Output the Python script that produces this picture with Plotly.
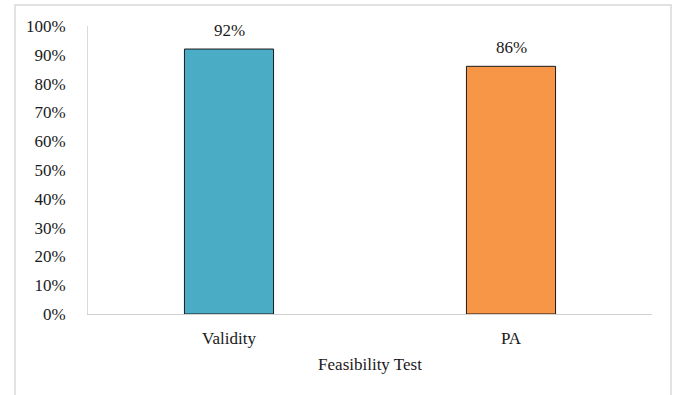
import plotly.graph_objects as go

# Feasibility test results
categories = ["Validity", "PA"]
scores = [0.92, 0.86]
bar_colors = ["#4BACC6", "#F79646"]
y_ticks = [0, 0.1, 0.2, 0.3, 0.4, 0.5, 0.6, 0.7, 0.8, 0.9, 1.0]

FONT = "Palatino Linotype, Book Antiqua, Liberation Serif, DejaVu Serif, serif"

fig = go.Figure(
    go.Bar(
        x=categories,
        y=scores,
        marker=dict(color=bar_colors, line=dict(color="#1a1a1a", width=1)),
        width=0.316,
        cliponaxis=False,
    )
)

# value labels above each bar
for cat, val in zip(categories, scores):
    fig.add_annotation(
        x=cat,
        y=val,
        text=f"{val:.0%}",
        showarrow=False,
        yanchor="bottom",
        yshift=7,
        font=dict(family=FONT, size=17, color="#1a1a1a"),
    )

L, R, T, B = 88, 24, 26, 81
W, H = 676, 395
pw, ph = W - L - R, H - T - B

fig.update_layout(
    width=W,
    height=H,
    margin=dict(l=L, r=R, t=T, b=B),
    paper_bgcolor="white",
    plot_bgcolor="white",
    showlegend=False,
    font=dict(family=FONT, size=17, color="#1a1a1a"),
    xaxis=dict(
        showline=True,
        linecolor="#d0d0d0",
        linewidth=1,
        showgrid=False,
        ticks="",
        ticklabelstandoff=9,
        tickfont=dict(size=17),
        title=dict(text="Feasibility Test", font=dict(size=17), standoff=10),
    ),
    yaxis=dict(
        range=[0, 1],
        tickvals=y_ticks,
        tickformat=".0%",
        showline=True,
        linecolor="#d9d9d9",
        linewidth=1,
        showgrid=False,
        zeroline=False,
        ticks="",
        ticklabelstandoff=18,
        tickfont=dict(size=17),
    ),
    shapes=[
        dict(
            type="rect",
            xref="paper",
            yref="paper",
            x0=(15 - L) / pw,
            x1=(671 - L) / pw,
            y0=-(B + 40) / ph,
            y1=(ph + T - 5) / ph,
            line=dict(color="#d9d9d9", width=1.5),
            fillcolor="rgba(0,0,0,0)",
            layer="below",
        )
    ],
)

fig.write_html("out.html")
